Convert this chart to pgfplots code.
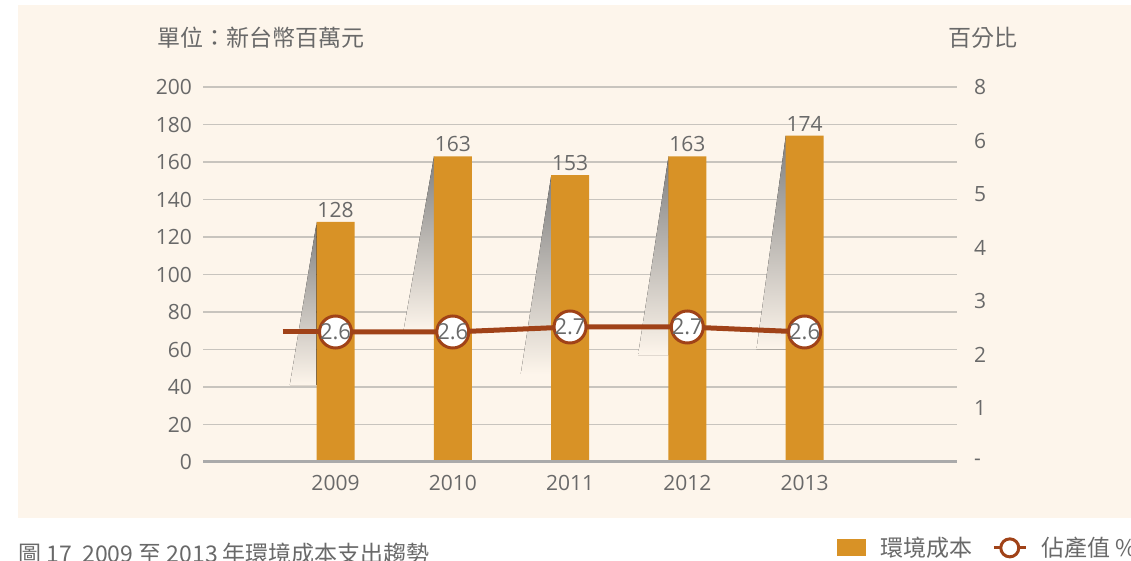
\documentclass[border=0pt]{standalone}
\usepackage{pgfplots}
\pgfplotsset{compat=1.18}
\usepackage{fontspec}
\setmainfont{Open Sans}
\newfontfamily\cjk{Noto Sans CJK TC}
\definecolor{bg}{RGB}{253,245,235}
\definecolor{barc}{RGB}{216,146,38}
\definecolor{linec}{RGB}{160,66,24}
\definecolor{txt}{RGB}{105,105,105}
\definecolor{gridc}{RGB}{200,196,190}
\definecolor{basec}{RGB}{170,170,170}
\newcommand{\tfont}{\fontsize{10.5}{12}\selectfont}
\begin{document}
\begin{tikzpicture}[x=0.5pt,y=0.5pt]
\useasboundingbox (0,0) rectangle (1131,561);
\clip (0,0) rectangle (1131,561);
\fill[bg] (18,43) rectangle (1131,556);
\node[anchor=west, inner sep=0pt, text=txt, font=\cjk\fontsize{11.5}{13}\selectfont] at (157,523) {單位：新台幣百萬元};
\node[anchor=west, inner sep=0pt, text=txt, font=\cjk\fontsize{11.5}{13}\selectfont] at (948,523) {百分比};
\node[anchor=north west, inner sep=0pt, text=txt, font=\cjk\fontsize{11.5}{14}\selectfont] at (18,18) {圖 17\ \ 2009 至 2013 年環境成本支出趨勢};

\begin{axis}[
  at={(101.5pt,49.5pt)}, anchor=south west,
  scale only axis, width=377pt, height=187.5pt,
  xmin=-1.13, xmax=5.3, ymin=0, ymax=200,
  axis line style={draw=none},
  major tick length=0pt,
  ytick={0,20,...,200},
  xtick={0,1,2,3,4}, xticklabels={2009,2010,2011,2012,2013},
  ymajorgrids, grid style={gridc, line width=0.75pt},
  /pgf/number format/assume math mode=true,
  ticklabel style={font=\tfont, text=txt},
  yticklabel style={xshift=-2pt},
  xticklabel style={yshift=-3pt},
  clip=false,
]
% shadows
\fill[top color=black!50, bottom color=bg] (axis cs:-0.16,128) -- (axis cs:-0.39,41) -- (axis cs:-0.16,41) -- cycle;
\fill[top color=black!50, bottom color=bg] (axis cs:0.84,163) -- (axis cs:0.58,70) -- (axis cs:0.84,70) -- cycle;
\fill[top color=black!50, bottom color=bg] (axis cs:1.84,153) -- (axis cs:1.58,47) -- (axis cs:1.84,47) -- cycle;
\fill[top color=black!50, bottom color=bg] (axis cs:2.84,163) -- (axis cs:2.58,57) -- (axis cs:2.84,57) -- cycle;
\fill[top color=black!50, bottom color=bg] (axis cs:3.84,174) -- (axis cs:3.59,60) -- (axis cs:3.84,60) -- cycle;
\addplot[ybar, bar width=19pt, fill=barc, draw=none,
  nodes near coords, nodes near coords style={font=\tfont, text=txt, inner sep=2pt}]
  coordinates {(0,128) (1,163) (2,153) (3,163) (4,174)};
\draw[basec, line width=1.5pt] (axis cs:-1.13,0) -- (axis cs:5.3,0);
\end{axis}

\begin{axis}[
  at={(101.5pt,49.5pt)}, anchor=south west,
  scale only axis, width=377pt, height=187.5pt,
  xmin=-1.13, xmax=5.3, ymin=0, ymax=7.5,
  axis y line*=right, axis x line=none,
  axis line style={draw=none},
  major tick length=0pt,
  ytick={0,1.0714,2.1429,3.2143,4.2857,5.3571,6.4286,7.5},
  yticklabels={-,1,2,3,4,5,6,8},
  /pgf/number format/assume math mode=true,
  ticklabel style={font=\tfont, text=txt},
  yticklabel style={xshift=5pt},
  clip=false,
  legend style={draw=none, fill=none, at={(0.833,-0.229)}, anchor=west,
    font=\cjk\fontsize{11.5}{13}\selectfont, text=txt,
    /tikz/every odd column/.append style={column sep=5pt},
    /tikz/every even column/.append style={column sep=8pt}},
  legend columns=2,
]
\addlegendimage{legend image code/.code={\fill[barc] (0pt,-4pt) rectangle (14pt,4pt);}}
\addlegendentry{環境成本}
\addplot[linec, line width=2.5pt, forget plot] coordinates {(-0.45,2.6) (0,2.6)};
\addplot[linec, line width=2.5pt, mark=*, mark size=8pt,
  mark options={fill=white, draw=linec, line width=1.5pt},
  nodes near coords, every node near coord/.append style={anchor=center, font=\fontsize{11}{12}\selectfont, text=txt},
  legend image code/.code={\draw[linec, line width=1.5pt] (0pt,0pt) -- (16pt,0pt); \draw[linec, line width=1.5pt, fill=white] (8pt,0pt) circle (4.5pt);}]
  coordinates {(0,2.6) (1,2.6) (2,2.7) (3,2.7) (4,2.6)};
\addlegendentry{佔產值 \%}
\end{axis}
\end{tikzpicture}
\end{document}
